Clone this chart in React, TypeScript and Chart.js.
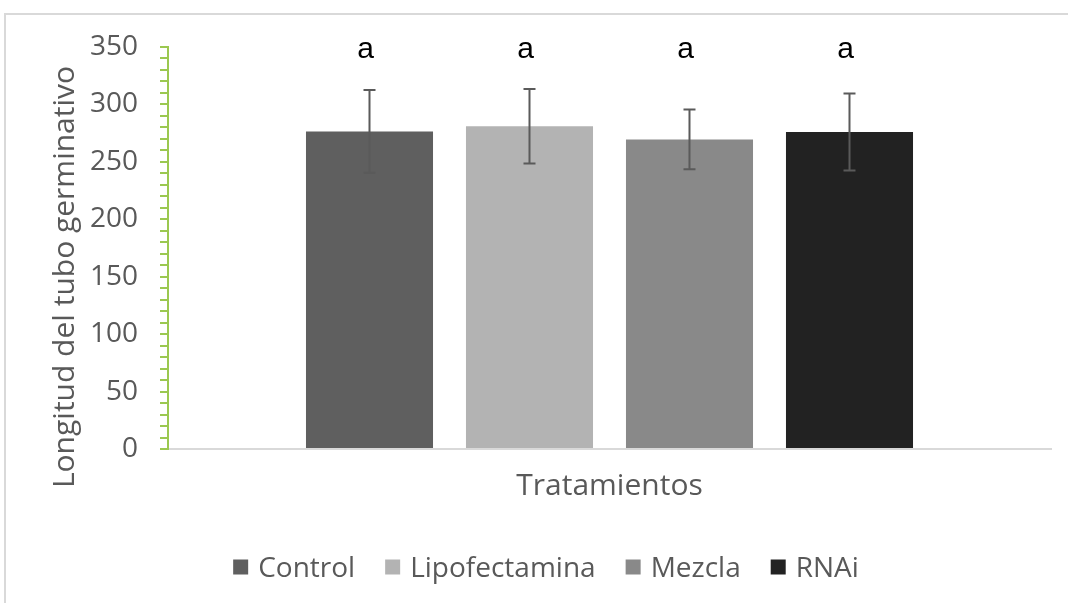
import React, { useEffect, useRef } from "react";
import { Chart, registerables } from "chart.js";
Chart.register(...registerables);

const categories = ["Tratamientos"];
const seriesNames = ["Control", "Lipofectamina", "Mezcla", "RNAi"];
const seriesMeans = [276.5, 281, 269.5, 276];
const seriesErrors = [36, 32.5, 26, 33.5];
const seriesLetters = ["a", "a", "a", "a"];
const seriesColors = ["#5f5f5f", "#b3b3b3", "#898989", "#222222"];
const yTickLabels = [0, 50, 100, 150, 200, 250, 300, 350];
const yTitle = "Longitud del tubo germinativo";
const yMin = 0;
const yMax = 350;
const yMinorStep = 10;
const letterLevel = 340;

const TEXT = "#595959";
const FONT = "'Open Sans', 'Noto Sans', sans-serif";

const framePlugin = {
  id: "frame",
  beforeDraw(chart: any) {
    const ctx = chart.ctx;
    ctx.save();
    ctx.strokeStyle = "#d9d9d9";
    ctx.lineWidth = 2;
    ctx.beginPath();
    ctx.moveTo(5, chart.height);
    ctx.lineTo(5, 14);
    ctx.lineTo(chart.width, 14);
    ctx.stroke();
    ctx.restore();
  },
};

const errorBarPlugin = {
  id: "errorBars",
  afterDatasetsDraw(chart: any) {
    const ctx = chart.ctx;
    const y = chart.scales.y;
    ctx.save();
    ctx.strokeStyle = "#5a5a5a";
    ctx.lineWidth = 2;
    chart.data.datasets.forEach((ds: any, i: number) => {
      const bar = chart.getDatasetMeta(i).data[0];
      if (!bar) return;
      const x = bar.x;
      const top = y.getPixelForValue(seriesMeans[i] + seriesErrors[i]);
      const bot = y.getPixelForValue(seriesMeans[i] - seriesErrors[i]);
      ctx.beginPath();
      ctx.moveTo(x, top);
      ctx.lineTo(x, bot);
      ctx.moveTo(x - 6, top);
      ctx.lineTo(x + 6, top);
      ctx.moveTo(x - 6, bot);
      ctx.lineTo(x + 6, bot);
      ctx.stroke();
    });
    ctx.restore();
  },
};

const lettersPlugin = {
  id: "letters",
  afterDatasetsDraw(chart: any) {
    const ctx = chart.ctx;
    const y = chart.scales.y;
    ctx.save();
    ctx.fillStyle = "#000000";
    ctx.font = "30px 'Liberation Sans', Arial, sans-serif";
    ctx.textAlign = "center";
    ctx.textBaseline = "alphabetic";
    chart.data.datasets.forEach((ds: any, i: number) => {
      const bar = chart.getDatasetMeta(i).data[0];
      if (!bar) return;
      ctx.fillText(seriesLetters[i], bar.x - 4, y.getPixelForValue(letterLevel));
    });
    ctx.restore();
  },
};

const yTitlePlugin = {
  id: "yTitle",
  afterDraw(chart: any) {
    const ctx = chart.ctx;
    const a = chart.chartArea;
    ctx.save();
    ctx.translate(73.5, (a.top + a.bottom) / 2 + 29);
    ctx.rotate(-Math.PI / 2);
    ctx.font = "30px " + FONT;
    ctx.fillStyle = TEXT;
    ctx.textAlign = "center";
    ctx.textBaseline = "alphabetic";
    ctx.fillText(yTitle, 0, 0);
    ctx.restore();
  },
};

const legendPlugin = {
  id: "customLegend",
  afterDraw(chart: any) {
    const ctx = chart.ctx;
    ctx.save();
    ctx.font = "28px " + FONT;
    const box = 15;
    const boxGap = 10;
    const itemGap = 30;
    const widths = seriesNames.map((n) => ctx.measureText(n).width);
    const total =
      widths.reduce((s, w) => s + box + boxGap + w, 0) + itemGap * (seriesNames.length - 1);
    let x = chart.width / 2 + 12 - total / 2;
    const baseline = chart.chartArea.bottom + 128;
    const cy = baseline - 10;
    seriesNames.forEach((n, i) => {
      ctx.fillStyle = seriesColors[i];
      ctx.fillRect(x, cy - box / 2, box, box);
      ctx.fillStyle = TEXT;
      ctx.textAlign = "left";
      ctx.textBaseline = "alphabetic";
      ctx.fillText(n, x + box + boxGap, baseline);
      x += box + boxGap + widths[i] + itemGap;
    });
    ctx.restore();
  },
};

export default function App() {
  const ref = useRef<HTMLCanvasElement | null>(null);
  useEffect(() => {
    if (!ref.current) return;
    const chart = new Chart(ref.current, {
      type: "bar",
      data: {
        labels: categories,
        datasets: seriesNames.map((name, i) => ({
          label: name,
          data: [seriesMeans[i]],
          backgroundColor: seriesColors[i],
          borderWidth: 0,
          categoryPercentage: 0.7248,
          barPercentage: 0.794,
        })),
      },
      options: {
        responsive: false,
        animation: false,
        layout: { padding: { left: 10, top: 47, right: 17, bottom: 94 } },
        plugins: {
          legend: { display: false },
          tooltip: { enabled: false },
          title: { display: false },
        },
        scales: {
          x: {
            type: "category",
            offset: true,
            grid: { display: false, drawTicks: false },
            border: { display: true, color: "#d9d9d9", width: 2 },
            ticks: {
              color: TEXT,
              font: { family: FONT, size: 30 },
              padding: 19,
            },
            afterFit: (s: any) => {
              s.height = 60;
            },
          },
          y: {
            type: "linear",
            min: yMin,
            max: yMax,
            grid: {
              display: true,
              drawOnChartArea: false,
              drawTicks: true,
              tickLength: 8,
              color: "#9bc850",
              lineWidth: 2,
            },
            border: { display: true, color: "#9bc850", width: 2 },
            ticks: {
              stepSize: yMinorStep,
              maxTicksLimit: 100,
              autoSkip: false,
              color: TEXT,
              font: { family: FONT, size: 28 },
              padding: 22,
              callback: (v: any) => (yTickLabels.includes(Number(v)) ? String(v) : ""),
            },
            afterFit: (s: any) => {
              s.width = 158;
            },
          },
        },
      },
      plugins: [framePlugin, errorBarPlugin, lettersPlugin, yTitlePlugin, legendPlugin],
    });
    return () => chart.destroy();
  }, []);
  return (
    <div style={{ position: "fixed", left: 0, top: 0, width: 1068, height: 603, background: "#fff" }}>
      <canvas ref={ref} width={1068} height={603} style={{ display: "block", width: 1068, height: 603 }} />
    </div>
  );
}
